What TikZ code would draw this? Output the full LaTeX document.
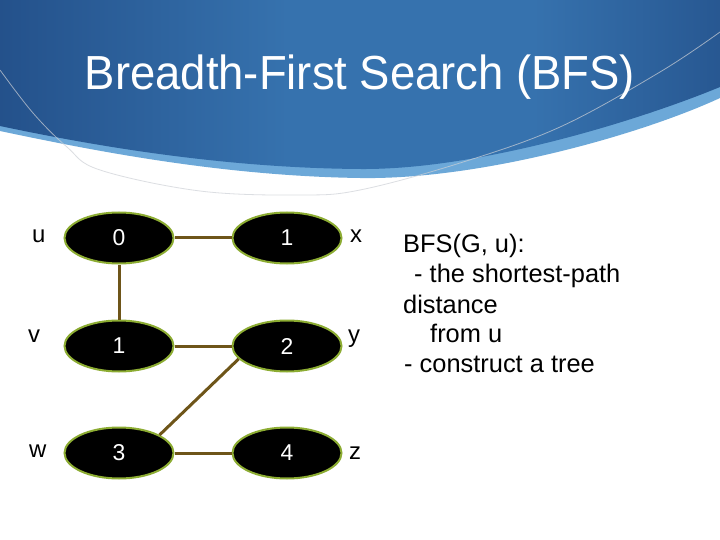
\documentclass[tikz,border=0pt]{standalone}
\usepackage{fontspec}
\setmainfont{Liberation Sans}
\usetikzlibrary{shapes.geometric}
\definecolor{hdrA}{RGB}{22,56,112}
\definecolor{hdrB}{RGB}{54,114,174}
\definecolor{bandC}{RGB}{108,168,216}
\definecolor{edgeC}{RGB}{110,85,25}
\definecolor{rimC}{RGB}{140,172,50}
\definecolor{thinC}{RGB}{205,208,214}
\pgfdeclarehorizontalshading{hdrshade}{100bp}{color(0bp)=(hdrA); color(22bp)=(hdrA!65!hdrB); color(45bp)=(hdrB); color(62bp)=(hdrB); color(82bp)=(hdrA!70!hdrB); color(100bp)=(hdrA)}
\tikzset{
  vtx/.style={ellipse, draw=rimC, line width=2bp, fill=black, minimum width=109bp, minimum height=51bp, inner sep=0pt, text=white, font=\fontsize{23}{23}\selectfont},
  lbl/.style={anchor=base west, inner sep=0pt, font=\fontsize{24}{24}\selectfont},
  txt/.style={anchor=base west, inner sep=0pt, font=\fontsize{25.5}{25.5}\selectfont},
  edge/.style={draw=edgeC, line width=3bp},
  ttl/.style={anchor=base, inner sep=0pt, text=white, font=\fontsize{48}{48}\selectfont}
}
\begin{document}
\begin{tikzpicture}[x=1bp,y=-1bp]
\fill[white] (0,0) rectangle (720,540);
\useasboundingbox (0,0) rectangle (720,540);
% header
\fill[bandC] (0,0) -- (720,0) -- (720,98) .. controls (640,135) and (480,180) .. (360,178) .. controls (220,176) and (90,150) .. (0,131) -- cycle;
\shade[shading=hdrshade] (0,0) -- (720,0) -- (720,87) .. controls (640,120) and (480,170) .. (360,169) .. controls (220,168) and (90,145) .. (0,126) -- cycle;
\draw[thinC, line width=0.8bp, opacity=0.7] plot[smooth, tension=0.6] coordinates {(0,70) (33,113) (67,147) (100,170) (200,191) (300,195) (360,190) (460,163) (560,127) (660,72) (720,32)};
\node[ttl] (title) at (360,90) {\scalebox{0.95}[1]{Breadth-First Search (BFS)}};
% vertices
\node[vtx] (n0) at (119,238) {0};
\node[vtx] (nx) at (287,238) {1};
\node[vtx] (nv) at (119,346) {1};
\node[vtx] (ny) at (287,346) {2};
\node[vtx] (nw) at (119,453) {3};
\node[vtx] (nz) at (287,453) {4};
% edges
\draw[edge] (n0) -- (nx);
\draw[edge] (n0) -- (nv);
\draw[edge] (nv) -- (ny);
\draw[edge] (ny.195) -- (nw.24);
\draw[edge] (nw) -- (nz);
% labels
\node[lbl] (lu) at (32,243) {u};
\node[lbl] (lv) at (28,342) {v};
\node[lbl] (lw) at (29,457) {w};
\node[lbl] (lx) at (350,243) {x};
\node[lbl] (ly) at (348,342) {y};
\node[lbl] (lz) at (349,459) {z};
% text
\node[txt] (t1) at (403,253) {BFS(G, u):};
\node[txt] (t2) at (414,283) {- the shortest-path};
\node[txt] (t3) at (403,313) {distance};
\node[txt] (t4) at (430,342) {from u};
\node[txt] (t5) at (404,372) {- construct a tree};
\end{tikzpicture}
\end{document}
